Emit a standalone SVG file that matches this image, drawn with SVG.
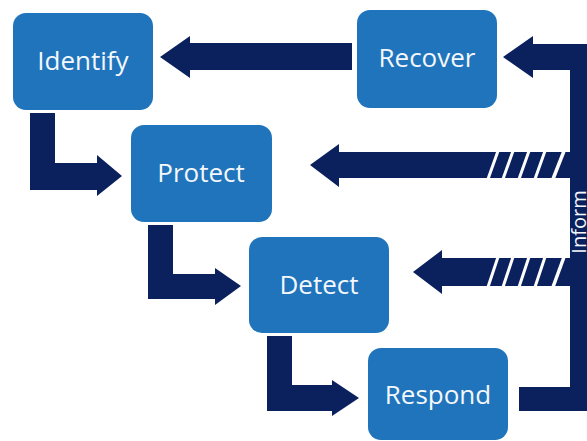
<svg xmlns="http://www.w3.org/2000/svg" width="587" height="441" viewBox="0 0 587 441">
<style>
.box{fill:#1f74bb}
.lbl{font-family:"Open Sans","Noto Sans","Liberation Sans",sans-serif;font-size:26px;fill:#f4f7fb;text-anchor:middle}
.arr{fill:#0a215e}
.slash{stroke:#ffffff;stroke-width:3;fill:none}
.inf{font-family:"Open Sans","Noto Sans","Liberation Sans",sans-serif;font-size:20px;fill:#f4f7fb;text-anchor:middle}
</style>
<rect width="587" height="441" fill="#ffffff"/>
<g id="connectors">
  <path class="arr" d="M160,57 L190,36 L190,43 L352,43 L352,70 L190,70 L190,78 Z"/>
  <path class="arr" d="M30,113 L55,113 L55,163 L97,163 L97,155 L122,176 L97,196 L97,190 L30,190 Z"/>
  <path class="arr" d="M148,225 L173,225 L173,274 L215,274 L215,268 L241,286 L215,305 L215,299 L148,299 Z"/>
  <path class="arr" d="M267,336 L292,336 L292,385 L332,385 L332,380 L359,398 L332,416 L332,411 L267,411 Z"/>
  <path class="arr" d="M503,57 L533,36 L533,44 L600,44 L600,411 L519,411 L519,387 L570,387 L570,70 L533,70 L533,78 Z"/>
  <path class="arr" d="M310,165 L339,144 L339,152 L572,152 L572,178 L339,178 L339,187 Z"/>
  <path class="arr" d="M413,272 L442,250 L442,258 L572,258 L572,286 L442,286 L442,294 Z"/>
  <g class="slash">
    <line x1="488" y1="179" x2="498" y2="151"/>
    <line x1="503" y1="179" x2="513" y2="151"/>
    <line x1="519" y1="179" x2="529" y2="151"/>
    <line x1="535" y1="179" x2="545" y2="151"/>
    <line x1="553" y1="179" x2="564" y2="151" stroke-width="3.5"/>
    <line x1="488" y1="287" x2="498" y2="257"/>
    <line x1="503" y1="287" x2="513" y2="257"/>
    <line x1="519" y1="287" x2="529" y2="257"/>
    <line x1="535" y1="287" x2="545" y2="257"/>
    <line x1="553" y1="287" x2="564" y2="257" stroke-width="3.5"/>
  </g>
  <text class="inf" transform="translate(586,222) rotate(-90)">Inform</text>
</g>
<g id="identify"><rect class="box" x="13" y="13" width="140" height="97" rx="13"/><text class="lbl" x="83" y="70">Identify</text></g>
<g id="recover"><rect class="box" x="357" y="10" width="140" height="98" rx="13"/><text class="lbl" x="427" y="67">Recover</text></g>
<g id="protect"><rect class="box" x="131" y="125" width="141" height="97" rx="13"/><text class="lbl" x="201" y="182">Protect</text></g>
<g id="detect"><rect class="box" x="249" y="237" width="140" height="96" rx="13"/><text class="lbl" x="319" y="294">Detect</text></g>
<g id="respond"><rect class="box" x="368" y="348" width="140" height="92" rx="13"/><text class="lbl" x="438" y="404">Respond</text></g>
</svg>
